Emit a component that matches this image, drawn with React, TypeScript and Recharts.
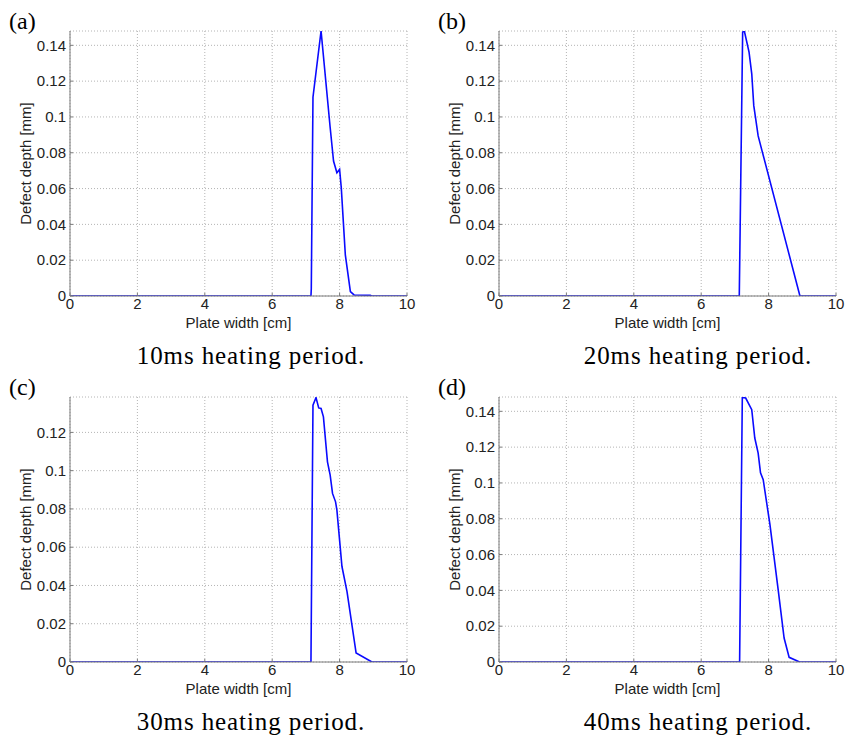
import React from 'react';
import { LineChart, Line, XAxis, YAxis, CartesianGrid } from 'recharts';

const xTicks = [0, 2, 4, 6, 8, 10];
const yTicksTall = [0, 0.02, 0.04, 0.06, 0.08, 0.1, 0.12, 0.14];
const yTicksShort = [0, 0.02, 0.04, 0.06, 0.08, 0.1, 0.12];

// (a) 10ms
const widthA = [0, 7.15, 7.16, 7.21, 7.45, 7.72, 7.82, 7.92, 8.0, 8.05, 8.17, 8.32, 8.43, 8.91, 8.95, 10];
const depthA = [0, 0, 0.004, 0.111, 0.148, 0.0941, 0.0754, 0.0688, 0.0707, 0.0604, 0.023, 0.0024, 0.0006, 0.0004, 0, 0];

// (b) 20ms
const widthB = [0, 7.13, 7.23, 7.28, 7.42, 7.5, 7.56, 7.69, 8.93, 10];
const depthB = [0, 0, 0.1474, 0.148, 0.1362, 0.1241, 0.1063, 0.0894, 0, 0];

// (c) 30ms
const widthC = [0, 7.15, 7.21, 7.3, 7.38, 7.45, 7.52, 7.64, 7.72, 7.79, 7.88, 7.92, 8.07, 8.22, 8.49, 8.96, 10];
const depthC = [0, 0, 0.1342, 0.1382, 0.1328, 0.1325, 0.1281, 0.1046, 0.0977, 0.0881, 0.0837, 0.0794, 0.0499, 0.0368, 0.0047, 0, 0];

// (d) 40ms
const widthD = [0, 7.14, 7.22, 7.32, 7.5, 7.59, 7.69, 7.76, 7.84, 8.04, 8.29, 8.46, 8.61, 8.92, 10];
const depthD = [0, 0, 0.1478, 0.1474, 0.1409, 0.1251, 0.1167, 0.1056, 0.1018, 0.0767, 0.0394, 0.0134, 0.0026, 0, 0];

const AXIS = '#7a7a7a';
const GRID = '#b4b4b4';
const TEXT = '#222';
const SANS = '"Liberation Sans", Arial, sans-serif';
const SERIF = '"Liberation Serif", "Times New Roman", serif';
const MARK = 3;

const zip = (xs: number[], ys: number[]) => xs.map((w, i) => ({ w, d: ys[i] }));

const LeftTick = (props: any) => {
  const { x, y, payload } = props;
  return (
    <g>
      <line x1={x + 4} x2={x + 4 + MARK} y1={y} y2={y} stroke={AXIS} />
      <text x={x} y={y} dy="0.35em" textAnchor="end" fontSize={15} fontFamily={SANS} fill={TEXT}>
        {String(payload.value)}
      </text>
    </g>
  );
};

const BottomTick = (props: any) => {
  const { x, y, payload } = props;
  return (
    <g>
      <line x1={x} x2={x} y1={y - 2} y2={y - 2 - MARK} stroke={AXIS} />
      <text x={x} y={y} dy="0.75em" textAnchor="middle" fontSize={15} fontFamily={SANS} fill={TEXT}>
        {String(payload.value)}
      </text>
    </g>
  );
};

const RightTick = (props: any) => {
  const { x, y } = props;
  return <line x1={x} x2={x - MARK} y1={y} y2={y} stroke={AXIS} />;
};

const TopTick = (props: any) => {
  const { x, y } = props;
  return <line x1={x} x2={x} y1={y} y2={y + MARK} stroke={AXIS} />;
};

type PanelProps = {
  left: number;
  top: number;
  tag: string;
  caption: string;
  xs: number[];
  ys: number[];
  yMax: number;
  yTicks: number[];
};

const Panel = ({ left, top, tag, caption, xs, ys, yMax, yTicks }: PanelProps) => (
  <>
    <div
      style={{
        position: 'absolute',
        left: left + 9,
        top: top + 9,
        fontFamily: SERIF,
        fontSize: 24,
        lineHeight: '24px',
        color: '#000',
      }}
    >
      {tag}
    </div>
    <div style={{ position: 'absolute', left, top }}>
      <LineChart
        width={430}
        height={345}
        data={zip(xs, ys)}
        margin={{ top: 31, right: 23, left: 10, bottom: 17 }}
      >
        <CartesianGrid stroke={GRID} strokeDasharray="1 2" />
        <XAxis
          dataKey="w"
          type="number"
          domain={[0, 10]}
          ticks={xTicks}
          interval={0}
          height={32}
          tickSize={0}
          tickMargin={2}
          tickLine={false}
          stroke={AXIS}
          tick={<BottomTick />}
          label={{
            value: 'Plate width [cm]',
            position: 'insideBottom',
            offset: 0,
            fontSize: 15,
            fontFamily: SANS,
            fill: TEXT,
          }}
        />
        <XAxis
          xAxisId="top"
          orientation="top"
          type="number"
          domain={[0, 10]}
          ticks={xTicks}
          interval={0}
          height={0}
          tickSize={0}
          tickMargin={0}
          tickLine={false}
          stroke={AXIS}
          tick={<TopTick />}
        />
        <YAxis
          type="number"
          domain={[0, yMax]}
          ticks={yTicks}
          interval={0}
          width={60}
          tickSize={0}
          tickMargin={4}
          tickLine={false}
          stroke={AXIS}
          allowDataOverflow
          tick={<LeftTick />}
          label={{
            value: 'Defect depth [mm]',
            angle: -90,
            position: 'insideLeft',
            offset: 16,
            fontSize: 15,
            fontFamily: SANS,
            fill: TEXT,
            style: { textAnchor: 'middle' },
          }}
        />
        <YAxis
          yAxisId="right"
          orientation="right"
          type="number"
          domain={[0, yMax]}
          ticks={yTicks}
          interval={0}
          width={0}
          tickSize={0}
          tickMargin={0}
          tickLine={false}
          stroke={AXIS}
          allowDataOverflow
          tick={<RightTick />}
        />
        <Line
          dataKey="d"
          type="linear"
          stroke="#0a0aff"
          strokeWidth={1.6}
          dot={false}
          isAnimationActive={false}
        />
      </LineChart>
    </div>
    <div
      style={{
        position: 'absolute',
        left: left + (left > 0 ? 269 : 251) - 150,
        width: 300,
        top: top + 343,
        textAlign: 'center',
        fontFamily: SERIF,
        fontSize: 25,
        letterSpacing: 0.9,
        lineHeight: '25px',
        color: '#000',
      }}
    >
      {caption}
    </div>
  </>
);

export default function App() {
  return (
    <div
      style={{
        position: 'fixed',
        left: 0,
        top: 0,
        width: 853,
        height: 737,
        background: '#fff',
        overflow: 'hidden',
      }}
    >
      <Panel left={0} top={0} tag="(a)" caption="10ms heating period." xs={widthA} ys={depthA} yMax={0.148} yTicks={yTicksTall} />
      <Panel left={429} top={0} tag="(b)" caption="20ms heating period." xs={widthB} ys={depthB} yMax={0.148} yTicks={yTicksTall} />
      <Panel left={0} top={366} tag="(c)" caption="30ms heating period." xs={widthC} ys={depthC} yMax={0.1385} yTicks={yTicksShort} />
      <Panel left={429} top={366} tag="(d)" caption="40ms heating period." xs={widthD} ys={depthD} yMax={0.148} yTicks={yTicksTall} />
    </div>
  );
}
